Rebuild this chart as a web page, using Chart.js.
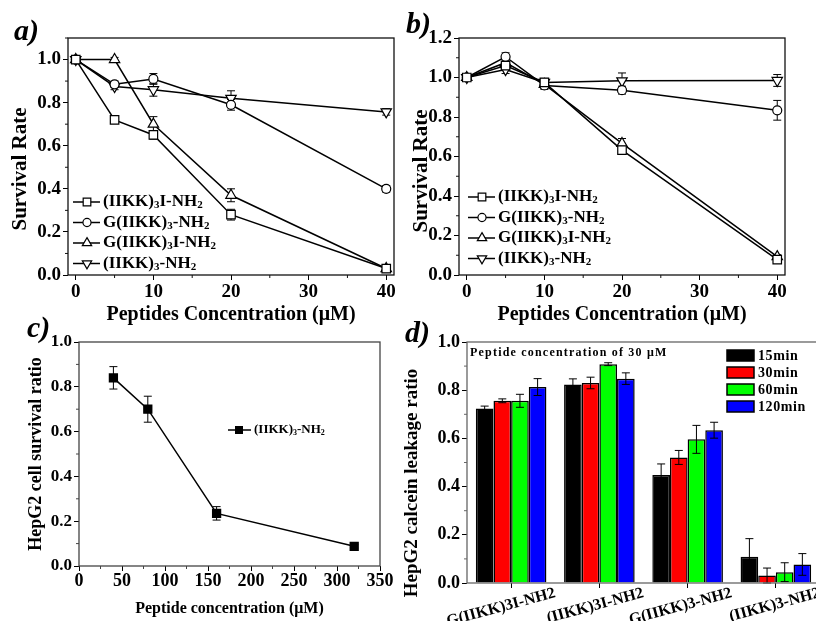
<!DOCTYPE html>
<html>
<head>
<meta charset="utf-8">
<script src="https://cdn.jsdelivr.net/npm/chart.js@4.4.1/dist/chart.umd.min.js"></script>
<style>
html, body { margin: 0; padding: 0; background: #fff; overflow: hidden; width: 816px; height: 621px; }
canvas { position: absolute; }
</style>
</head>
<body>
<canvas id="chartA" width="408" height="330" style="left:0;top:0"></canvas>
<canvas id="chartB" width="416" height="330" style="left:400px;top:0"></canvas>
<canvas id="chartC" width="408" height="311" style="left:0;top:310px"></canvas>
<canvas id="chartD" width="424" height="311" style="left:400px;top:310px"></canvas>
<script>
// ---- data ----
var concAB = [0, 5, 10, 20, 40];
var peptideNames = ['(IIKK)_3_I-NH_2', 'G(IIKK)_3_-NH_2', 'G(IIKK)_3_I-NH_2', '(IIKK)_3_-NH_2'];

// panel a
var survA_IIKK3I = [1.0, 0.72, 0.65, 0.28, 0.03];
var survA_GIIKK3 = [1.0, 0.885, 0.91, 0.79, 0.40];
var survA_GIIKK3I = [1.0, 1.0, 0.70, 0.37, 0.03];
var survA_IIKK3 = [1.0, 0.875, 0.86, 0.82, 0.757];
var errA_IIKK3I = [0.01, 0.01, 0.02, 0.025, 0.015];
var errA_GIIKK3 = [0.01, 0.015, 0.025, 0.025, 0.015];
var errA_GIIKK3I = [0.01, 0.01, 0.035, 0.03, 0.01];
var errA_IIKK3 = [0.01, 0.015, 0.03, 0.035, 0.015];

// panel b
var survB_IIKK3I = [1.0, 1.06, 0.975, 0.632, 0.078];
var survB_GIIKK3 = [1.0, 1.105, 0.96, 0.936, 0.834];
var survB_GIIKK3I = [1.0, 1.075, 0.965, 0.666, 0.093];
var survB_IIKK3 = [1.0, 1.04, 0.975, 0.983, 0.985];
var errB_IIKK3I = [0.01, 0.02, 0.02, 0.02, 0.01];
var errB_GIIKK3 = [0.01, 0.02, 0.02, 0.02, 0.05];
var errB_GIIKK3I = [0.01, 0.02, 0.02, 0.025, 0.01];
var errB_IIKK3 = [0.01, 0.02, 0.02, 0.04, 0.03];

// panel c
var concC = [40, 80, 160, 320];
var hepg2Survival = [0.84, 0.70, 0.235, 0.088];
var hepg2SurvivalErr = [0.05, 0.058, 0.03, 0.008];

// panel d
var leakCategories = ['G(IIKK)3I-NH2', '(IIKK)3I-NH2', 'G(IIKK)3-NH2', '(IIKK)3-NH2'];
var timeLabels = ['15min', '30min', '60min', '120min'];
var leak15 = [0.724, 0.824, 0.448, 0.109];
var leak30 = [0.756, 0.830, 0.521, 0.031];
var leak60 = [0.756, 0.908, 0.596, 0.045];
var leak120 = [0.813, 0.848, 0.634, 0.077];
var leakErr15 = [0.01, 0.023, 0.046, 0.075];
var leakErr30 = [0.008, 0.024, 0.029, 0.031];
var leakErr60 = [0.027, 0.006, 0.058, 0.039];
var leakErr120 = [0.035, 0.024, 0.033, 0.045];

var barColors = ['#000000', '#ff0000', '#00ff00', '#0000ff'];
var markerStyles = [
  { pointStyle: 'rect', radius: 6, rotation: 0 },
  { pointStyle: 'circle', radius: 4.5, rotation: 0 },
  { pointStyle: 'triangle', radius: 6, rotation: 0 },
  { pointStyle: 'triangle', radius: 6, rotation: 180 }
];

Chart.defaults.font.family = '"Liberation Serif", "Times New Roman", serif';
Chart.defaults.font.weight = 'bold';
Chart.defaults.color = '#000';
Chart.defaults.animation = false;

var FONT = '"Liberation Serif", "Times New Roman", serif';

// text with "_sub_" parts drawn smaller and lower
function richText(ctx, label, x, y, size) {
  var parts = label.split('_');
  ctx.textAlign = 'left';
  ctx.textBaseline = 'middle';
  for (var i = 0; i < parts.length; i++) {
    var sub = i % 2 === 1;
    ctx.font = 'bold ' + (sub ? Math.round(size * 0.65) : size) + 'px ' + FONT;
    ctx.fillText(parts[i], x, sub ? y + size * 0.2 : y);
    x += ctx.measureText(parts[i]).width;
  }
}

function panelLabel(ctx, text, x, y) {
  ctx.save();
  ctx.fillStyle = '#000';
  ctx.font = 'italic bold 30px ' + FONT;
  ctx.textAlign = 'left';
  ctx.textBaseline = 'alphabetic';
  ctx.fillText(text, x, y);
  ctx.restore();
}

function yTitle(ctx, text, x, y, size) {
  ctx.save();
  ctx.fillStyle = '#000';
  ctx.font = 'bold ' + size + 'px ' + FONT;
  ctx.textAlign = 'center';
  ctx.textBaseline = 'middle';
  ctx.translate(x, y);
  ctx.rotate(-Math.PI / 2);
  ctx.fillText(text, 0, 0);
  ctx.restore();
}

// box around plot + short minor ticks
var framePlugin = {
  id: 'frame',
  afterDraw: function (chart, args, opts) {
    var ctx = chart.ctx, a = chart.chartArea;
    ctx.save();
    ctx.strokeStyle = opts.color || '#111';
    ctx.lineWidth = 1.3;
    ctx.strokeRect(a.left, a.top, a.right - a.left, a.bottom - a.top);
    ctx.lineWidth = 1;
    var xs = chart.scales.x, ys = chart.scales.y, v;
    if (opts.minorX) {
      for (v = opts.minorX[0]; v < xs.max; v += opts.minorX[1]) {
        var px = xs.getPixelForValue(v);
        ctx.beginPath(); ctx.moveTo(px, a.bottom); ctx.lineTo(px, a.bottom + 3); ctx.stroke();
      }
    }
    if (opts.minorY) {
      for (v = opts.minorY[0]; v < ys.max; v += opts.minorY[1]) {
        var py = ys.getPixelForValue(v);
        ctx.beginPath(); ctx.moveTo(a.left, py); ctx.lineTo(a.left - 3, py); ctx.stroke();
      }
    }
    ctx.restore();
  }
};

function drawErrors(chart, cap) {
  var ctx = chart.ctx;
  ctx.save();
  ctx.strokeStyle = '#000';
  ctx.lineWidth = 1;
  chart.data.datasets.forEach(function (ds, i) {
    if (!ds.errors) return;
    var meta = chart.getDatasetMeta(i);
    var ys = chart.scales.y;
    meta.data.forEach(function (el, j) {
      var val = typeof ds.data[j] === 'object' ? ds.data[j].y : ds.data[j];
      var e = ds.errors[j];
      var y1 = ys.getPixelForValue(val + e), y2 = ys.getPixelForValue(val - e);
      ctx.beginPath();
      ctx.moveTo(el.x, y1); ctx.lineTo(el.x, y2);
      ctx.moveTo(el.x - cap, y1); ctx.lineTo(el.x + cap, y1);
      ctx.moveTo(el.x - cap, y2); ctx.lineTo(el.x + cap, y2);
      ctx.stroke();
    });
  });
  ctx.restore();
}

var errorsBehind = { id: 'errorsBehind', beforeDatasetsDraw: function (chart) { drawErrors(chart, 4); } };
var errorsFront = { id: 'errorsFront', afterDatasetsDraw: function (chart) { drawErrors(chart, 4); } };

function toPoints(xs, ys) {
  return xs.map(function (x, i) { return { x: x, y: ys[i] }; });
}

function lineDatasets(series, errors) {
  return series.map(function (vals, i) {
    var m = markerStyles[i];
    return {
      label: peptideNames[i],
      data: toPoints(concAB, vals),
      errors: errors[i],
      borderColor: '#000',
      borderWidth: 1.5,
      pointStyle: m.pointStyle,
      pointRotation: m.rotation,
      pointRadius: m.radius,
      pointBackgroundColor: '#fff',
      pointBorderColor: '#000',
      pointBorderWidth: 1.2
    };
  });
}

function markerLegend(ctx, x, y0, gap, size) {
  ctx.save();
  for (var i = 0; i < peptideNames.length; i++) {
    var y = y0 + i * gap;
    var m = markerStyles[i];
    ctx.strokeStyle = '#000';
    ctx.lineWidth = 1.5;
    ctx.beginPath(); ctx.moveTo(x, y); ctx.lineTo(x + 27, y); ctx.stroke();
    ctx.fillStyle = '#fff';
    ctx.lineWidth = 1.2;
    Chart.helpers.drawPoint(ctx, { pointStyle: m.pointStyle, rotation: m.rotation, radius: m.radius * 0.9, borderWidth: 1.2 }, x + 14, y);
    ctx.fillStyle = '#000';
    richText(ctx, peptideNames[i], x + 30, y, size);
  }
  ctx.restore();
}

function survivalOptions(yMax, yWidth, rightPad) {
  return {
    responsive: false,
    layout: { padding: { top: 38, right: rightPad, left: 0, bottom: 0 } },
    plugins: { legend: { display: false }, tooltip: { enabled: false },
      frame: { minorX: [5, 10], minorY: [0.1, 0.2] } },
    scales: {
      x: {
        type: 'linear', min: -1, max: 41,
        ticks: { stepSize: 10, includeBounds: false, maxRotation: 0, padding: 1, font: { size: 19, weight: 'bold' } },
        grid: { drawOnChartArea: false, tickLength: 5, color: '#000' },
        border: { display: false },
        title: { display: true, text: 'Peptides Concentration (\u03bcM)', font: { size: 20, weight: 'bold' }, padding: { top: 0, bottom: 3 } },
        afterFit: function (s) { s.height = 55; }
      },
      y: {
        min: 0, max: yMax,
        ticks: { stepSize: 0.2, includeBounds: false, padding: 2, font: { size: 19, weight: 'bold' },
          callback: function (v) { return v.toFixed(1); } },
        grid: { drawOnChartArea: false, tickLength: 5, color: '#000' },
        border: { display: false },
        afterFit: function (s) { s.width = yWidth; }
      }
    }
  };
}

// ---- panel a ----
new Chart(document.getElementById('chartA'), {
  type: 'line',
  data: { datasets: lineDatasets(
    [survA_IIKK3I, survA_GIIKK3, survA_GIIKK3I, survA_IIKK3],
    [errA_IIKK3I, errA_GIIKK3, errA_GIIKK3I, errA_IIKK3]) },
  options: survivalOptions(1.1, 68, 14),
  plugins: [framePlugin, errorsBehind, {
    id: 'extrasA',
    afterDraw: function (chart) {
      panelLabel(chart.ctx, 'a)', 14, 40);
      yTitle(chart.ctx, 'Survival Rate', 21, 169, 21);
      markerLegend(chart.ctx, 73, 202, 20.5, 17);
    }
  }]
});

// ---- panel b ----
new Chart(document.getElementById('chartB'), {
  type: 'line',
  data: { datasets: lineDatasets(
    [survB_IIKK3I, survB_GIIKK3, survB_GIIKK3I, survB_IIKK3],
    [errB_IIKK3I, errB_GIIKK3, errB_GIIKK3I, errB_IIKK3]) },
  options: survivalOptions(1.2, 59, 31),
  plugins: [framePlugin, errorsBehind, {
    id: 'extrasB',
    afterDraw: function (chart) {
      panelLabel(chart.ctx, 'b)', 6, 33);
      yTitle(chart.ctx, 'Survival Rate', 22, 171, 21);
      markerLegend(chart.ctx, 68, 197, 20.5, 17);
    }
  }]
});

// ---- panel c ----
new Chart(document.getElementById('chartC'), {
  type: 'line',
  data: { datasets: [{
    label: '(IIKK)3-NH2',
    data: toPoints(concC, hepg2Survival),
    errors: hepg2SurvivalErr,
    borderColor: '#000',
    borderWidth: 1.5,
    pointStyle: 'rect',
    pointRadius: 5.5,
    pointBackgroundColor: '#000',
    pointBorderColor: '#000'
  }] },
  options: {
    responsive: false,
    layout: { padding: { top: 32, right: 28, left: 0, bottom: 0 } },
    plugins: { legend: { display: false }, tooltip: { enabled: false },
      frame: { color: '#444', minorX: [25, 50], minorY: [0.1, 0.2] } },
    scales: {
      x: {
        type: 'linear', min: 0, max: 350,
        ticks: { stepSize: 50, maxRotation: 0, padding: 0, font: { size: 18, weight: 'bold' } },
        grid: { drawOnChartArea: false, tickLength: 5, color: '#000' },
        border: { display: false },
        title: { display: true, text: 'Peptide concentration (\u03bcM)', font: { size: 16, weight: 'bold' }, padding: { top: 0, bottom: 3 } },
        afterFit: function (s) { s.height = 55; }
      },
      y: {
        min: 0, max: 1.0,
        ticks: { stepSize: 0.2, padding: 2, font: { size: 17, weight: 'bold' },
          callback: function (v) { return v.toFixed(1); } },
        grid: { drawOnChartArea: false, tickLength: 5, color: '#000' },
        border: { display: false },
        title: { display: true, text: 'HepG2 cell survival ratio', font: { size: 18, weight: 'bold' }, padding: { top: 26, bottom: 0 } },
        afterFit: function (s) { s.width = 79; }
      }
    }
  },
  plugins: [framePlugin, errorsBehind, {
    id: 'extrasC',
    afterDraw: function (chart) {
      var ctx = chart.ctx;
      panelLabel(ctx, 'c)', 27, 27);
      ctx.save();
      ctx.strokeStyle = '#000'; ctx.fillStyle = '#000'; ctx.lineWidth = 1.5;
      ctx.beginPath(); ctx.moveTo(228, 120); ctx.lineTo(251, 120); ctx.stroke();
      ctx.fillRect(235, 116, 8, 8);
      richText(ctx, '(IIKK)_3_-NH_2', 254, 120, 13);
      ctx.restore();
    }
  }]
});

// ---- panel d ----
var leakSets = [leak15, leak30, leak60, leak120];
var leakErrs = [leakErr15, leakErr30, leakErr60, leakErr120];
new Chart(document.getElementById('chartD'), {
  type: 'bar',
  data: {
    labels: leakCategories,
    datasets: leakSets.map(function (vals, i) {
      return {
        label: timeLabels[i],
        data: vals,
        errors: leakErrs[i],
        backgroundColor: barColors[i],
        borderColor: '#000',
        borderWidth: 1.5,
        categoryPercentage: 0.8,
        barPercentage: 1.0
      };
    })
  },
  options: {
    responsive: false,
    layout: { padding: { top: 32, right: 4, left: 0, bottom: 0 } },
    plugins: { legend: { display: false }, tooltip: { enabled: false },
      frame: { color: '#666', minorY: [0.1, 0.2] } },
    scales: {
      x: {
        ticks: { display: false },
        grid: { drawOnChartArea: false, tickLength: 5, color: '#000', offset: false },
        border: { display: false },
        afterFit: function (s) { s.height = 38; }
      },
      y: {
        min: 0, max: 1.0,
        ticks: { stepSize: 0.2, padding: 2, font: { size: 18, weight: 'bold' },
          callback: function (v) { return v.toFixed(1); } },
        grid: { drawOnChartArea: false, tickLength: 5, color: '#000' },
        border: { display: false },
        afterFit: function (s) { s.width = 67; }
      }
    }
  },
  plugins: [framePlugin, errorsFront, {
    id: 'extrasD',
    afterDraw: function (chart) {
      var ctx = chart.ctx, xs = chart.scales.x, a = chart.chartArea;
      panelLabel(ctx, 'd)', 5, 32);
      yTitle(ctx, 'HepG2 calcein leakage ratio', 12, 173, 19);
      ctx.save();
      ctx.fillStyle = '#000';
      // category labels, rotated
      ctx.font = 'bold 16px ' + FONT;
      ctx.textAlign = 'right';
      ctx.textBaseline = 'alphabetic';
      leakCategories.forEach(function (c, i) {
        var px = xs.getPixelForValue(i);
        ctx.save();
        ctx.translate(px + 45, a.bottom + 14);
        ctx.rotate(-15 * Math.PI / 180);
        ctx.fillText(c, 0, 0);
        ctx.restore();
      });
      // note
      ctx.font = 'bold 12px ' + FONT;
      ctx.letterSpacing = '1.2px';
      ctx.textAlign = 'left';
      ctx.textBaseline = 'middle';
      ctx.fillText('Peptide concentration of 30 \u03bcM', 70, 43);
      // legend
      ctx.font = 'bold 14px ' + FONT;
      ctx.letterSpacing = '0.6px';
      timeLabels.forEach(function (t, i) {
        var y = 40 + i * 17;
        ctx.fillStyle = barColors[i];
        ctx.fillRect(327, y, 27, 11);
        ctx.strokeStyle = '#000'; ctx.lineWidth = 1.5;
        ctx.strokeRect(327, y, 27, 11);
        ctx.fillStyle = '#000';
        ctx.fillText(t, 358, y + 6);
      });
      ctx.restore();
    }
  }]
});
</script>
</body>
</html>
